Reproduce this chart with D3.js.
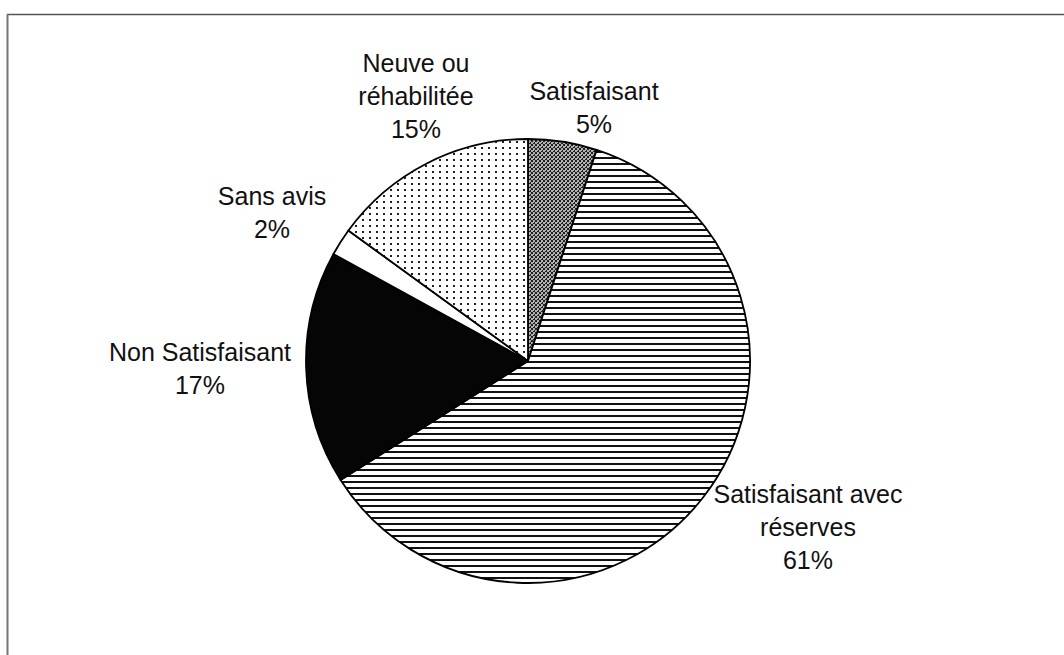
<!DOCTYPE html>
<html>
<head>
<meta charset="utf-8">
<script src="https://cdn.jsdelivr.net/npm/d3@7"></script>
<style>
  body { margin: 0; background: #fff; }
  text { font-family: "Liberation Sans", Arial, sans-serif; font-size: 25px; fill: #111; }
</style>
</head>
<body>
<div id="chart"></div>
<script>
// categories in drawing order (clockwise from 12 o'clock)
const categories = ["Satisfaisant", "Satisfaisant avec réserves", "Non Satisfaisant", "Sans avis", "Neuve ou réhabilitée"]
const values = [5, 61, 17, 2, 15]
const labelLines = [
  ["Satisfaisant", "5%"],
  ["Satisfaisant avec", "réserves", "61%"],
  ["Non Satisfaisant", "17%"],
  ["Sans avis", "2%"],
  ["Neuve ou", "réhabilitée", "15%"]
]

const width = 1064
const height = 655
const cx = 528, cy = 361, radius = 222

// where each label block sits (center x, first baseline)
const labelPos = {
  "Satisfaisant": [594, 100],
  "Satisfaisant avec réserves": [808, 503],
  "Non Satisfaisant": [200, 361],
  "Sans avis": [272, 205],
  "Neuve ou réhabilitée": [416, 72]
}
const lineStep = 33

const svg = d3.select("#chart")
  .append("svg")
    .attr("width", width)
    .attr("height", height)

const defs = svg.append("defs")

// gray stipple
const stip = defs.append("pattern")
  .attr("id", "stipple")
  .attr("patternUnits", "userSpaceOnUse")
  .attr("width", 4).attr("height", 4)
stip.append("rect").attr("width", 4).attr("height", 4).attr("fill", "#b0b0b0")
;[[0,0],[2,1],[1,2],[3,3],[3,0],[0,3],[2,2]].forEach(p => {
  stip.append("rect").attr("x", p[0]).attr("y", p[1]).attr("width", 1).attr("height", 1).attr("fill", "#222")
})

// horizontal lines
const hl = defs.append("pattern")
  .attr("id", "hlines")
  .attr("patternUnits", "userSpaceOnUse")
  .attr("width", 8).attr("height", 6)
hl.append("rect").attr("width", 8).attr("height", 6).attr("fill", "#fff")
hl.append("rect").attr("y", 0).attr("width", 8).attr("height", 2).attr("fill", "#111")

// dots
const dots = defs.append("pattern")
  .attr("id", "dots")
  .attr("patternUnits", "userSpaceOnUse")
  .attr("width", 7).attr("height", 6)
dots.append("rect").attr("width", 7).attr("height", 6).attr("fill", "#fff")
dots.append("rect").attr("x", 2).attr("y", 2).attr("width", 2).attr("height", 2).attr("fill", "#222")

const fills = d3.scaleOrdinal()
  .domain(categories)
  .range(["url(#stipple)", "url(#hlines)", "#050505", "#ffffff", "url(#dots)"])

// frame
svg.append("line")
  .attr("x1", 7).attr("x2", width).attr("y1", 14.5).attr("y2", 14.5)
  .attr("stroke", "#555").attr("stroke-width", 1.5)
svg.append("line")
  .attr("x1", 7.5).attr("x2", 7.5).attr("y1", 14).attr("y2", height)
  .attr("stroke", "#777").attr("stroke-width", 2)

const pie = d3.pie().sort(null).value((d, i) => values[i])
const arc = d3.arc().innerRadius(0).outerRadius(radius)

const g = svg.append("g").attr("transform", `translate(${cx},${cy})`)

g.selectAll("path")
  .data(pie(categories))
  .join("path")
    .attr("d", arc)
    .attr("fill", d => fills(d.data))
    .attr("stroke", "#000")
    .attr("stroke-width", 1.8)
    .attr("stroke-linejoin", "round")

categories.forEach((c, i) => {
  const [x, y] = labelPos[c]
  const t = svg.append("text").attr("text-anchor", "middle")
  labelLines[i].forEach((line, j) => {
    t.append("tspan").attr("x", x).attr("y", y + j * lineStep).text(line)
  })
})
</script>
</body>
</html>
